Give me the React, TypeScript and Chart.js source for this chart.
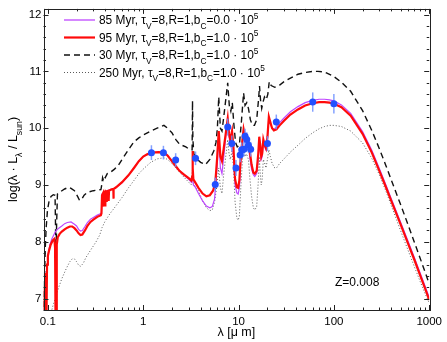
import { useEffect, useRef } from 'react';
import { Chart, registerables } from 'chart.js';

Chart.register(...registerables);

const FONT = '"Liberation Sans", Arial, Helvetica, sans-serif';

// ---------- axis ticks ----------
const X_TICKS = [0.1, 1, 10, 100, 1000];
const Y_TICKS = [7, 8, 9, 10, 11, 12];

// ---------- legend text ----------
const SERIES_AGES = ['85 Myr', '95 Myr', '30 Myr', '250 Myr'];
const SERIES_BC = ['0.0', '1.0', '1.0', '1.0'];

// ---------- 95 Myr, bC = 1.0e5 (red) ----------
const RED_LAM = [0.09, 0.0925, 0.0935, 0.095, 0.0965, 0.098, 0.1, 0.103, 0.107, 0.112, 0.117, 0.119, 0.1205, 0.1225, 0.124, 0.127, 0.133, 0.14, 0.15, 0.16, 0.17, 0.18, 0.19, 0.2, 0.21, 0.22, 0.23, 0.245, 0.26, 0.28, 0.3, 0.33, 0.36, 0.365, 0.37, 0.38, 0.383, 0.386, 0.395, 0.398, 0.401, 0.41, 0.413, 0.416, 0.43, 0.434, 0.438, 0.46, 0.486, 0.488, 0.49, 0.52, 0.6, 0.7, 0.8, 0.9, 1.0, 1.1, 1.25, 1.45, 1.65, 1.8, 2.0, 2.2, 2.4, 2.7, 3.0, 3.2, 3.26, 3.29, 3.32, 3.36, 3.5, 3.8, 4.2, 4.6, 5.0, 5.4, 5.7, 5.95, 6.2, 6.45, 6.7, 7.0, 7.4, 7.7, 7.95, 8.2, 8.55, 8.85, 9.2, 9.6, 9.9, 10.2, 10.6, 11.0, 11.3, 11.7, 12.1, 12.7, 13.1, 13.7, 14.3, 14.8, 15.5, 16.1, 16.5, 16.9, 17.3, 17.7, 18.2, 18.7, 19.4, 20.1, 20.8, 21.6, 22.5, 23.5, 25, 27, 30, 35, 42, 50, 60, 70, 80, 90, 100, 120, 150, 200, 250, 300, 350, 400, 500, 600, 700, 800, 900, 1000];
const RED_LOGL = [6.5, 7.2, 6.5, 7.45, 6.5, 7.6, 7.75, 7.85, 7.95, 8.02, 8.05, 7.9, 6.5, 6.5, 7.95, 8.08, 8.14, 8.18, 8.22, 8.25, 8.27, 8.27, 8.24, 8.2, 8.15, 8.12, 8.13, 8.2, 8.28, 8.35, 8.39, 8.44, 8.47, 8.5, 8.82, 8.86, 8.62, 8.86, 8.88, 8.64, 8.88, 8.88, 8.7, 8.89, 8.9, 8.72, 8.9, 8.92, 8.93, 8.76, 8.93, 8.96, 9.05, 9.17, 9.3, 9.42, 9.5, 9.54, 9.57, 9.58, 9.57, 9.52, 9.42, 9.33, 9.25, 9.18, 9.12, 9.08, 9.15, 9.6, 9.3, 9.1, 9.05, 8.95, 8.85, 8.8, 8.82, 8.9, 9.03, 9.45, 9.95, 9.5, 9.42, 9.65, 9.95, 10.17, 9.9, 9.8, 9.95, 9.65, 9.1, 8.96, 8.95, 9.08, 9.55, 9.8, 9.98, 9.85, 9.88, 9.77, 9.6, 9.36, 9.22, 9.2, 9.25, 9.55, 9.85, 9.7, 9.5, 9.55, 9.8, 9.72, 9.65, 9.85, 10.2, 10.1, 10.0, 9.96, 9.98, 10.05, 10.13, 10.24, 10.33, 10.4, 10.44, 10.46, 10.46, 10.45, 10.43, 10.37, 10.22, 9.9, 9.57, 9.25, 8.97, 8.72, 8.31, 7.97, 7.68, 7.42, 7.19, 6.98];

// ---------- 85 Myr, bC = 0.0 (purple) ----------
const PUR_LAM = [0.09, 0.095, 0.098, 0.1, 0.105, 0.11, 0.12, 0.13, 0.14, 0.15, 0.16, 0.175, 0.19, 0.2, 0.21, 0.22, 0.23, 0.245, 0.26, 0.28, 0.3, 0.33, 0.36, 0.365, 0.37, 0.4, 0.5, 0.6, 0.7, 0.8, 0.9, 1.0, 1.1, 1.25, 1.45, 1.65, 1.8, 2.0, 2.2, 2.4, 2.7, 3.0, 3.2, 3.29, 3.36, 3.5, 3.8, 4.2, 4.6, 5.0, 5.3, 5.6, 5.95, 6.2, 6.45, 6.7, 7.0, 7.4, 7.7, 7.95, 8.2, 8.55, 8.85, 9.2, 9.6, 9.9, 10.2, 10.6, 11.0, 11.3, 11.7, 12.1, 12.7, 13.1, 13.7, 14.3, 14.8, 15.5, 16.1, 16.5, 16.9, 17.3, 17.7, 18.2, 18.7, 19.4, 20.1, 20.8, 21.6, 22.5, 23.5, 25, 27, 30, 35, 42, 50, 60, 70, 80, 90, 100, 120, 150, 200, 250, 300, 350, 400, 500, 600, 700, 800, 900, 1000];
const PUR_LOGL = [6.5, 7.3, 7.6, 7.75, 7.95, 8.05, 8.18, 8.24, 8.28, 8.32, 8.34, 8.35, 8.31, 8.28, 8.22, 8.19, 8.2, 8.27, 8.34, 8.4, 8.43, 8.47, 8.5, 8.52, 8.84, 8.89, 8.94, 9.04, 9.17, 9.3, 9.42, 9.5, 9.54, 9.57, 9.58, 9.57, 9.52, 9.42, 9.33, 9.25, 9.17, 9.1, 9.05, 9.15, 9.0, 8.97, 8.85, 8.72, 8.63, 8.6, 8.62, 8.75, 9.3, 9.85, 9.3, 9.2, 9.5, 9.9, 10.12, 9.85, 9.7, 9.85, 9.5, 9.0, 8.86, 8.84, 8.95, 9.45, 9.75, 9.95, 9.8, 9.82, 9.7, 9.5, 9.28, 9.18, 9.15, 9.2, 9.45, 9.78, 9.62, 9.45, 9.5, 9.75, 9.68, 9.62, 9.82, 10.15, 10.08, 10.0, 9.98, 10.02, 10.1, 10.18, 10.29, 10.38, 10.45, 10.49, 10.51, 10.51, 10.5, 10.48, 10.41, 10.26, 9.94, 9.61, 9.29, 9.01, 8.76, 8.35, 8.01, 7.72, 7.46, 7.23, 7.02];

// ---------- 30 Myr (black dashed) ----------
const DSH_LAM = [0.09, 0.092, 0.094, 0.096, 0.099, 0.103, 0.108, 0.114, 0.119, 0.1205, 0.122, 0.1235, 0.126, 0.135, 0.15, 0.165, 0.175, 0.19, 0.205, 0.215, 0.225, 0.24, 0.26, 0.3, 0.36, 0.365, 0.375, 0.38, 0.39, 0.4, 0.42, 0.45, 0.5, 0.55, 0.6, 0.7, 0.8, 0.9, 1.0, 1.2, 1.4, 1.65, 1.8, 2.0, 2.2, 2.4, 2.8, 3.1, 3.26, 3.29, 3.32, 3.4, 3.7, 4.0, 4.5, 5.0, 5.5, 5.8, 6.0, 6.2, 6.45, 6.7, 7.0, 7.4, 7.7, 8.0, 8.3, 8.6, 8.9, 9.3, 9.7, 10.2, 10.7, 11.3, 11.7, 12.2, 12.7, 13.3, 14.0, 14.7, 15.5, 16.2, 16.6, 17.0, 17.5, 18.0, 18.7, 19.5, 20.3, 21.0, 22, 24, 27, 30, 35, 42, 50, 60, 68, 80, 100, 120, 150, 200, 250, 300, 350, 400, 500, 600, 700, 800, 900, 1000];
const DSH_LOGL = [6.5, 7.3, 7.9, 8.25, 8.55, 8.72, 8.8, 8.83, 8.82, 8.2, 7.78, 8.3, 8.84, 8.88, 8.93, 8.96, 8.94, 8.9, 8.8, 8.73, 8.74, 8.82, 8.87, 8.9, 8.92, 8.97, 9.13, 9.1, 9.16, 9.13, 9.2, 9.22, 9.28, 9.35, 9.45, 9.62, 9.76, 9.83, 9.88, 9.95, 10.0, 10.05, 10.0, 9.92, 9.8, 9.72, 9.67, 9.62, 9.62, 10.48, 9.8, 9.55, 9.45, 9.4, 9.36, 9.45, 9.6, 9.75, 10.0, 10.55, 10.0, 9.95, 10.2, 10.55, 10.8, 10.4, 10.3, 10.45, 10.1, 9.75, 9.67, 9.7, 10.1, 10.62, 10.4, 10.45, 10.35, 10.15, 10.05, 10.05, 10.15, 10.5, 10.74, 10.5, 10.35, 10.45, 10.55, 10.5, 10.6, 10.82, 10.75, 10.72, 10.76, 10.82, 10.88, 10.95, 10.98, 11.0, 11.0, 10.99, 10.91, 10.81, 10.65, 10.31, 9.96, 9.64, 9.35, 9.09, 8.66, 8.3, 7.99, 7.72, 7.48, 7.26];

// ---------- 250 Myr (grey dotted) ----------
const DOT_LAM = [0.105, 0.11, 0.115, 0.12, 0.13, 0.14, 0.157, 0.17, 0.18, 0.19, 0.2, 0.21, 0.22, 0.235, 0.25, 0.28, 0.32, 0.35, 0.37, 0.4, 0.45, 0.5, 0.6, 0.7, 0.8, 0.9, 1.0, 1.2, 1.4, 1.65, 1.8, 2.0, 2.2, 2.4, 2.7, 3.0, 3.2, 3.29, 3.33, 3.5, 3.8, 4.2, 4.6, 5.0, 5.3, 5.6, 5.95, 6.2, 6.45, 6.7, 7.0, 7.4, 7.7, 7.95, 8.2, 8.55, 8.85, 9.2, 9.6, 9.9, 10.2, 10.6, 11.0, 11.3, 11.7, 12.1, 12.7, 13.1, 13.7, 14.3, 14.8, 15.5, 16.1, 16.5, 16.9, 17.3, 17.7, 18.2, 18.7, 19.4, 20.1, 20.8, 21.6, 22.5, 24, 25, 27, 30, 35, 42, 50, 60, 70, 80, 90, 100, 120, 150, 200, 250, 300, 350, 400, 500, 600, 700, 800, 900, 1000];
const DOT_LOGL = [6.6, 6.8, 6.92, 7.0, 7.2, 7.35, 7.54, 7.65, 7.7, 7.7, 7.65, 7.59, 7.57, 7.62, 7.72, 7.85, 8.0, 8.12, 8.25, 8.37, 8.5, 8.6, 8.78, 8.95, 9.08, 9.2, 9.28, 9.4, 9.46, 9.48, 9.45, 9.38, 9.3, 9.23, 9.13, 9.05, 9.0, 9.28, 9.05, 8.97, 8.9, 8.72, 8.6, 8.55, 8.56, 8.7, 9.0, 9.3, 8.95, 8.85, 9.2, 9.55, 9.8, 9.55, 9.45, 9.6, 9.3, 8.7, 8.42, 8.38, 8.45, 9.0, 9.45, 9.7, 9.5, 9.55, 9.45, 9.15, 8.8, 8.6, 8.56, 8.62, 9.05, 9.5, 9.2, 9.0, 9.1, 9.45, 9.4, 9.3, 9.45, 9.62, 9.5, 9.38, 9.3, 9.3, 9.38, 9.46, 9.58, 9.7, 9.82, 9.92, 9.99, 10.03, 10.05, 10.05, 10.03, 9.95, 9.74, 9.47, 9.18, 8.9, 8.64, 8.2, 7.85, 7.56, 7.31, 7.1, 6.92];

// ---------- observed photometry (blue) ----------
const OBS_LAM = [1.22, 1.63, 2.19, 3.54, 5.7, 7.7, 8.5, 9.4, 10.4, 10.8, 11.4, 11.7, 12.2, 12.7, 13.4, 20.1, 24.9, 60, 100];
const OBS_LOGL = [9.57, 9.57, 9.44, 9.47, 9.01, 10.02, 9.73, 9.3, 9.53, 9.62, 9.63, 9.86, 9.8, 9.7, 9.63, 9.73, 10.11, 10.46, 10.43];
const OBS_ERR = [0.13, 0.12, 0.12, 0.12, 0.12, 0.15, 0.14, 0.14, 0.13, 0.13, 0.13, 0.13, 0.13, 0.13, 0.13, 0.13, 0.13, 0.17, 0.17];

const PURPLE = 'rgb(190,70,255)';
const RED = 'rgb(255,10,10)';
const BLUE = 'rgb(35,80,255)';
const ERRBLUE = 'rgba(110,145,255,0.85)';
const GREY = 'rgb(90,90,90)';

type Part = { t: string; s?: 'sub' | 'sup' };

function legendParts(i: number): Part[] {
  return [
    { t: `${SERIES_AGES[i]}, τ` },
    { t: 'V', s: 'sub' },
    { t: '=8,R=1,b' },
    { t: 'C', s: 'sub' },
    { t: `=${SERIES_BC[i]} · 10` },
    { t: '5', s: 'sup' },
  ];
}

function richWidth(ctx: CanvasRenderingContext2D, parts: Part[], size: number) {
  let w = 0;
  for (const p of parts) {
    ctx.font = `${p.s ? size * 0.7 : size}px ${FONT}`;
    w += ctx.measureText(p.t).width;
  }
  return w;
}

function drawRich(ctx: CanvasRenderingContext2D, parts: Part[], x: number, y: number, size: number) {
  let cx = x;
  for (const p of parts) {
    const fs = p.s ? size * 0.7 : size;
    ctx.font = `${fs}px ${FONT}`;
    const dy = p.s === 'sub' ? size * 0.38 : p.s === 'sup' ? -size * 0.45 : 0;
    ctx.fillText(p.t, cx, y + dy);
    cx += ctx.measureText(p.t).width;
  }
}

const mk = (xs: number[], ys: number[]) => xs.map((x, i) => ({ x, y: ys[i] }));

const decorPlugin = {
  id: 'decor',
  beforeDatasetDraw(chart: any, args: any) {
    if (args.index !== 0) return;
    const ctx = chart.ctx as CanvasRenderingContext2D;
    const xs = chart.scales.x;
    const ys = chart.scales.y;
    ctx.save();
    ctx.strokeStyle = ERRBLUE;
    ctx.lineWidth = 1.5;
    OBS_LAM.forEach((l, i) => {
      const px = xs.getPixelForValue(l);
      ctx.beginPath();
      ctx.moveTo(px, ys.getPixelForValue(OBS_LOGL[i] - OBS_ERR[i]));
      ctx.lineTo(px, ys.getPixelForValue(OBS_LOGL[i] + OBS_ERR[i]));
      ctx.stroke();
    });
    ctx.restore();
  },
  afterDraw(chart: any) {
    const ctx = chart.ctx as CanvasRenderingContext2D;
    const a = chart.chartArea;
    const xs = chart.scales.x;
    const ys = chart.scales.y;
    ctx.save();
    // frame
    ctx.strokeStyle = '#222';
    ctx.lineWidth = 1;
    ctx.strokeRect(Math.round(a.left) + 0.5, Math.round(a.top) + 0.5, Math.round(a.right - a.left), Math.round(a.bottom - a.top));
    // x ticks (inside, top and bottom)
    ctx.beginPath();
    for (let e = -2; e <= 3; e++) {
      for (let k = 1; k <= 9; k++) {
        const v = k * Math.pow(10, e);
        if (v < xs.min || v > xs.max) continue;
        const px = Math.round(xs.getPixelForValue(v)) + 0.5;
        const len = k === 1 ? 5 : 2.5;
        ctx.moveTo(px, a.bottom);
        ctx.lineTo(px, a.bottom - len);
        ctx.moveTo(px, a.top);
        ctx.lineTo(px, a.top + len);
      }
    }
    // y ticks (inside, left and right)
    for (let i = 0; i <= 30; i++) {
      const v = 6 + i * 0.2;
      if (v < ys.min - 1e-9 || v > ys.max + 1e-9) continue;
      const py = Math.round(ys.getPixelForValue(v)) + 0.5;
      const major = Math.abs(v - Math.round(v)) < 1e-6;
      const len = major ? 5 : 2.5;
      ctx.moveTo(a.left, py);
      ctx.lineTo(a.left + len, py);
      ctx.moveTo(a.right, py);
      ctx.lineTo(a.right - len, py);
    }
    ctx.stroke();

    // legend
    const styles = [
      { c: PURPLE, w: 1.3, d: [] as number[] },
      { c: RED, w: 2.2, d: [] as number[] },
      { c: '#111', w: 1.5, d: [6, 4] },
      { c: GREY, w: 1, d: [1, 2] },
    ];
    const rowY = [20, 37.5, 55, 72.5];
    for (let i = 0; i < 4; i++) {
      const st = styles[i];
      ctx.beginPath();
      ctx.strokeStyle = st.c;
      ctx.lineWidth = st.w;
      ctx.setLineDash(st.d);
      ctx.moveTo(64, rowY[i]);
      ctx.lineTo(95, rowY[i]);
      ctx.stroke();
      ctx.setLineDash([]);
      ctx.fillStyle = '#000';
      ctx.textBaseline = 'alphabetic';
      ctx.textAlign = 'left';
      drawRich(ctx, legendParts(i), 99, rowY[i] + 4, 11.9);
    }

    // Z label
    ctx.fillStyle = '#000';
    ctx.font = `12px ${FONT}`;
    ctx.textAlign = 'left';
    ctx.fillText('Z=0.008', 335, 286);

    // x title
    const xt: Part[] = [{ t: 'λ [μ m]' }];
    const xw = richWidth(ctx, xt, 12.5);
    drawRich(ctx, xt, (a.left + a.right) / 2 - xw / 2, 336, 12.5);

    // y title
    const yt: Part[] = [{ t: 'log(λ · L' }, { t: 'λ', s: 'sub' }, { t: ' / L' }, { t: 'sun', s: 'sub' }, { t: ')' }];
    const yw = richWidth(ctx, yt, 12.5);
    ctx.translate(17, (a.top + a.bottom) / 2);
    ctx.rotate(-Math.PI / 2);
    drawRich(ctx, yt, -yw / 2, 0, 12.5);
    ctx.restore();
  },
};

export default function App() {
  const ref = useRef<HTMLCanvasElement>(null);
  useEffect(() => {
    if (!ref.current) return;
    Chart.defaults.color = '#000';
    const chart = new Chart(ref.current, {
      type: 'line',
      data: {
        datasets: [
          {
            type: 'scatter',
            data: mk(OBS_LAM, OBS_LOGL),
            pointRadius: 3.5,
            pointHoverRadius: 3.5,
            backgroundColor: BLUE,
            borderColor: BLUE,
            borderWidth: 0,
            showLine: false,
          } as any,
          { data: mk(RED_LAM, RED_LOGL), borderColor: RED, borderWidth: 2.2, pointRadius: 0, tension: 0, fill: false, clip: 0 } as any,
          { data: mk(PUR_LAM, PUR_LOGL), borderColor: PURPLE, borderWidth: 1.2, pointRadius: 0, tension: 0, fill: false, clip: 0 } as any,
          { data: mk(DSH_LAM, DSH_LOGL), borderColor: '#111', borderWidth: 1.4, borderDash: [6, 4], pointRadius: 0, tension: 0, fill: false, clip: 0 } as any,
          { data: mk(DOT_LAM, DOT_LOGL), borderColor: GREY, borderWidth: 1, borderDash: [1, 2], pointRadius: 0, tension: 0, fill: false, clip: 0 } as any,
        ],
      },
      options: {
        responsive: false,
        animation: false,
        devicePixelRatio: 1,
        layout: { padding: { left: 0, top: 3, right: 14.5, bottom: 0 }, autoPadding: false } as any,
        plugins: { legend: { display: false }, tooltip: { enabled: false } },
        events: [],
        scales: {
          x: {
            type: 'logarithmic',
            min: 0.09,
            max: 1000,
            afterBuildTicks: (s: any) => {
              s.ticks = X_TICKS.map((v) => ({ value: v }));
            },
            afterFit: (s: any) => {
              s.height = 32;
            },
            grid: { display: false, drawTicks: false },
            border: { display: false },
            ticks: {
              autoSkip: false,
              maxRotation: 0,
              padding: 5,
              color: '#000',
              font: { family: FONT, size: 11.5 },
              callback: (v: any) => (Number(v) < 1 ? Number(v).toFixed(1) : String(Number(v))),
            },
          },
          y: {
            type: 'linear',
            min: 6.8,
            max: 12.1,
            afterBuildTicks: (s: any) => {
              s.ticks = Y_TICKS.map((v) => ({ value: v }));
            },
            afterFit: (s: any) => {
              s.width = 43.5;
            },
            grid: { display: false, drawTicks: false },
            border: { display: false },
            ticks: {
              padding: 2,
              color: '#000',
              font: { family: FONT, size: 11.5 },
              callback: (v: any) => String(v),
            },
          },
        },
      } as any,
      plugins: [decorPlugin],
    });
    return () => chart.destroy();
  }, []);
  return (
    <div style={{ position: 'fixed', left: 0, top: 0, width: 447, height: 342, background: '#fff' }}>
      <canvas ref={ref} width={447} height={342} style={{ display: 'block', width: 447, height: 342 }} />
    </div>
  );
}
